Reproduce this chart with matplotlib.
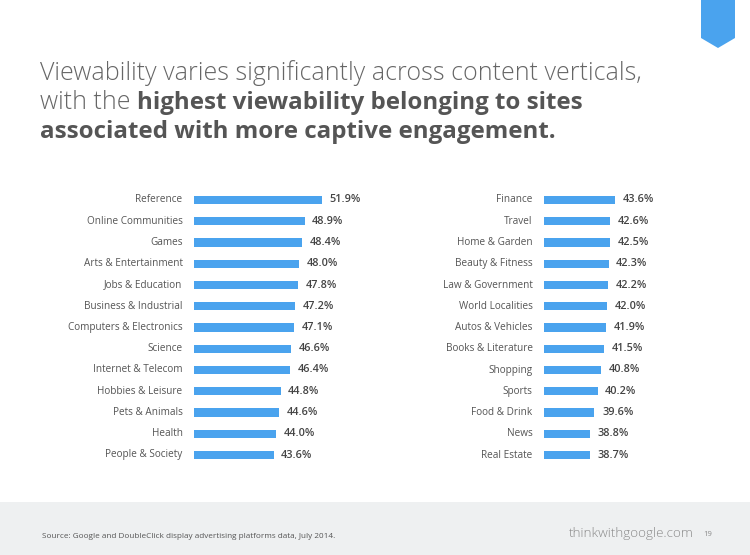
import matplotlib
matplotlib.use("Agg")
import matplotlib.pyplot as plt
from matplotlib.patches import Polygon, Rectangle

left_categories = ["Reference", "Online Communities", "Games", "Arts & Entertainment",
                   "Jobs & Education", "Business & Industrial", "Computers & Electronics",
                   "Science", "Internet & Telecom", "Hobbies & Leisure", "Pets & Animals",
                   "Health", "People & Society"]
left_values = [51.9, 48.9, 48.4, 48.0, 47.8, 47.2, 47.1, 46.6, 46.4, 44.8, 44.6, 44.0, 43.6]

right_categories = ["Finance", "Travel", "Home & Garden", "Beauty & Fitness",
                    "Law & Government", "World Localities", "Autos & Vehicles",
                    "Books & Literature", "Shopping", "Sports", "Food & Drink",
                    "News", "Real Estate"]
right_values = [43.6, 42.6, 42.5, 42.3, 42.2, 42.0, 41.9, 41.5, 40.8, 40.2, 39.6, 38.8, 38.7]

FONT = "Open Sans"
W, H = 750, 555
BAR_COLOR = "#4aa3ee"

fig = plt.figure(figsize=(7.5, 5.55), dpi=100)
fig.patch.set_facecolor("white")

def fx(px):
    return px / W

def fy(py):
    return 1 - py / H

# footer band
fig.patches.append(Rectangle((0, 0), 1, fy(502), transform=fig.transFigure,
                             facecolor="#eef0f1", edgecolor="none", zorder=0))
# ribbon
fig.patches.append(Polygon([(fx(701), 1.0), (fx(735), 1.0), (fx(735), fy(38)),
                            (fx(718), fy(48)), (fx(701), fy(38))],
                           closed=True, transform=fig.transFigure,
                           facecolor="#4aa3ee", edgecolor="none", zorder=1))

row_h = 21.25
top_px = 200 - row_h / 2
ax_h = 13 * row_h

def make_panel(x0_px, px_per_unit, cats, vals):
    xmax = 62
    width_px = (xmax - 30) * px_per_unit
    ax = fig.add_axes([fx(x0_px), fy(top_px + ax_h), width_px / W, ax_h / H])
    y = list(range(len(cats)))
    ax.barh(y, vals, height=0.38, color=BAR_COLOR, left=0)
    ax.set_xlim(30, xmax)
    ax.set_ylim(len(cats) - 0.5, -0.5)
    ax.axis("off")
    for yi, c, v in zip(y, cats, vals):
        ax.annotate(c, xy=(30, yi), xytext=(-8.2, 0), textcoords="offset points",
                    ha="right", va="center", fontsize=7.2, family=FONT, color="#555555")
        ax.annotate(f"{v:.1f}%", xy=(v, yi), xytext=(5.5, 0), textcoords="offset points",
                    ha="left", va="center", fontsize=7.8, family=FONT, fontweight="semibold",
                    color="#444444")
    return ax

make_panel(194, 5.85, left_categories, left_values)
make_panel(544, 5.25, right_categories, right_values)

# title
lsize = 18
bsize = 17.4
fig.text(fx(40), fy(80), "Viewability varies significantly across content verticals,",
         fontsize=lsize, family=FONT, fontweight="light", color="#666666", va="baseline")
t2 = fig.text(fx(40), fy(109), "with the ", fontsize=lsize, family=FONT,
              fontweight="light", color="#666666", va="baseline")
fig.canvas.draw()
r = fig.canvas.get_renderer()
bb = t2.get_window_extent(renderer=r)
fig.text(bb.x1 / W, fy(109), "highest viewability belonging to sites", fontsize=bsize,
         family=FONT, fontweight="bold", color="#555555", va="baseline")
fig.text(fx(40), fy(138), "associated with more captive engagement.", fontsize=bsize,
         family=FONT, fontweight="bold", color="#555555", va="baseline")

# footer texts
fig.text(fx(42), fy(536), "Source: Google and DoubleClick display advertising platforms data, July 2014.",
         fontsize=5.85, family=FONT, color="#555555", va="center")
fig.text(fx(569), fy(534), "thinkwithgoogle.com", fontsize=9.6, family=FONT,
         fontweight="light", color="#888888", va="center")
fig.text(fx(703), fy(535), "19", fontsize=5.5, family=FONT, color="#888888", va="center")

fig.savefig("out.png", dpi=100, facecolor="white")
